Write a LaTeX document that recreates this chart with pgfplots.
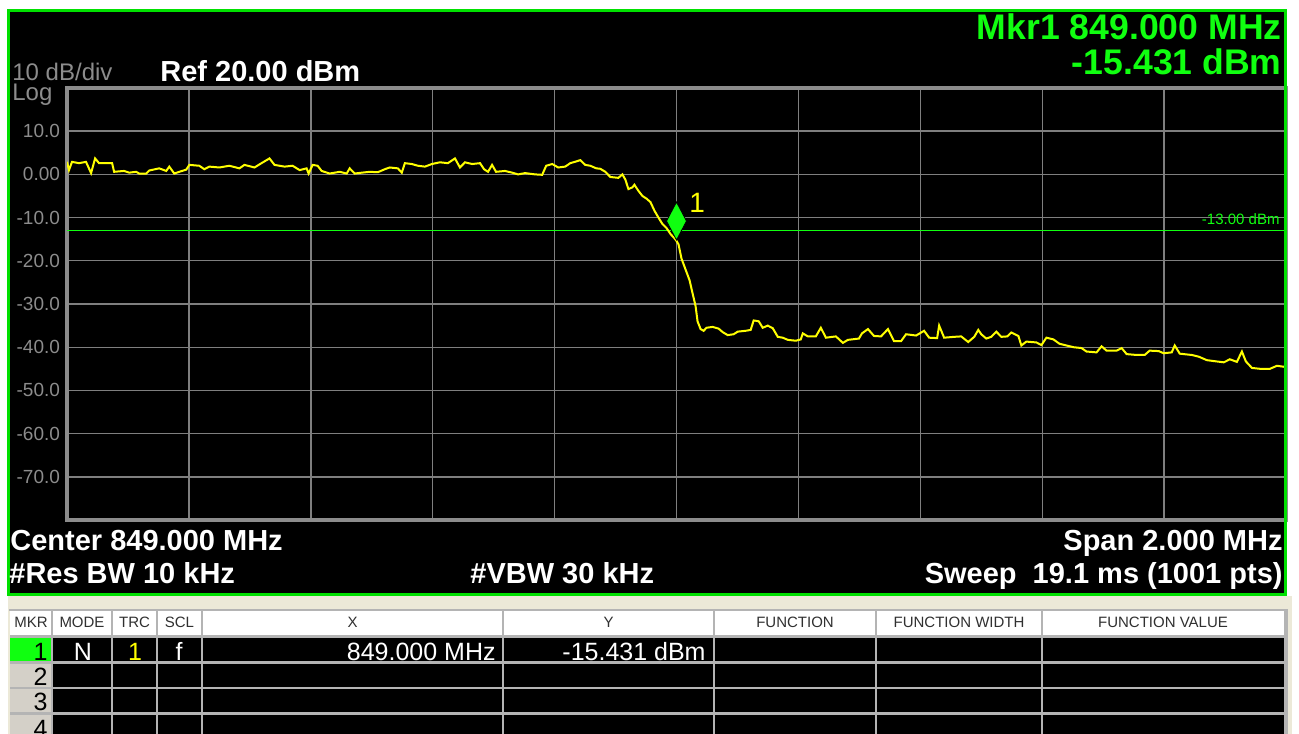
\documentclass[border=0pt]{standalone}
\usepackage{pgfplots}
\usepackage{pgfplotstable}
\pgfplotsset{compat=1.18}
\usepackage{fontspec}
\setmainfont{Liberation Sans}
\definecolor{framegreen}{HTML}{00E000}
\definecolor{mkrgreen}{HTML}{10FF10}
\definecolor{gridgrey}{HTML}{7F7F7F}
\definecolor{bordergrey}{HTML}{8C8C8C}
\definecolor{ticktext}{HTML}{8C8C8C}
\definecolor{traceyellow}{HTML}{FFFF00}
\definecolor{xpbeige}{HTML}{ECE9D8}
\definecolor{cellgrey}{HTML}{D4D0C8}
\definecolor{tableline}{HTML}{B4B4B4}
\definecolor{headtext}{HTML}{303030}

% trace 1, 848-850 MHz, dBm
\pgfplotstableread{
freq dbm
848.0000 2.9
848.0033 1.0
848.0082 2.9
848.0197 2.6
848.0312 2.9
848.0395 0.3
848.0461 3.7
848.0526 2.6
848.0740 2.6
848.0773 0.6
848.0937 0.8
848.1020 0.4
848.1135 0.6
848.1184 0.2
848.1299 0.2
848.1349 0.9
848.1513 1.4
848.1628 0.8
848.1678 1.8
848.1760 0.2
848.1842 0.6
848.1957 1.1
848.2007 2.2
848.2171 2.0
848.2253 1.2
848.2336 1.8
848.2500 1.6
848.2664 2.0
848.2829 1.4
848.2911 2.2
848.3076 1.6
848.3191 2.6
848.3322 3.7
848.3405 2.2
848.3569 1.8
848.3701 2.0
848.3816 1.0
848.3931 1.4
848.3964 0.2
848.4030 2.2
848.4112 2.0
848.4178 0.8
848.4309 0.2
848.4474 0.6
848.4589 0.2
848.4638 1.4
848.4720 0.2
848.4836 0.4
848.4967 0.6
848.5099 0.5
848.5214 1.2
848.5296 1.6
848.5428 1.4
848.5493 0.4
848.5543 2.6
848.5658 2.4
848.5757 2.0
848.5872 1.8
848.5987 2.4
848.6118 2.8
848.6250 2.6
848.6365 3.7
848.6447 1.6
848.6530 2.8
848.6645 2.4
848.6776 2.6
848.6842 1.2
848.6908 0.6
848.6974 2.2
848.7039 0.6
848.7187 0.8
848.7303 0.4
848.7401 0.0
848.7516 0.3
848.7681 0.0
848.7796 -0.1
848.7862 2.0
848.7961 2.4
848.8059 1.6
848.8174 1.8
848.8257 2.6
848.8355 3.0
848.8421 3.3
848.8503 2.2
848.8586 2.0
848.8684 1.4
848.8750 1.3
848.8832 0.6
848.8914 -0.6
848.9046 -0.8
848.9112 0.0
848.9161 -1.2
848.9211 -3.4
848.9276 -3.0
848.9309 -2.4
848.9375 -3.8
848.9441 -5.0
848.9507 -5.6
848.9572 -6.4
848.9638 -8.4
848.9704 -10.0
848.9770 -11.5
848.9836 -12.4
848.9901 -13.8
848.9967 -14.8
849.0000 -15.4
849.0033 -16.2
849.0082 -19.5
849.0148 -22.0
849.0214 -24.5
849.0263 -27.5
849.0313 -30.5
849.0345 -34.0
849.0395 -35.8
849.0444 -36.2
849.0493 -35.5
849.0592 -35.3
849.0691 -35.7
849.0757 -36.5
849.0839 -37.2
849.0938 -37.0
849.1003 -36.4
849.1135 -36.2
849.1217 -36.0
849.1266 -33.8
849.1349 -34.0
849.1414 -35.5
849.1497 -35.0
849.1579 -35.6
849.1661 -37.6
849.1743 -37.8
849.1826 -38.3
849.1957 -38.5
849.2039 -38.2
849.2072 -36.8
849.2155 -37.5
849.2286 -37.5
849.2368 -35.5
849.2451 -37.8
849.2615 -37.5
849.2730 -39.0
849.2812 -38.3
849.2993 -38.0
849.3043 -36.8
849.3141 -35.8
849.3240 -37.4
849.3355 -37.5
849.3470 -35.8
849.3569 -38.6
849.3684 -38.6
849.3766 -37.0
849.3931 -37.3
849.4062 -36.2
849.4145 -37.8
849.4276 -37.9
849.4309 -35.0
849.4391 -37.8
849.4556 -37.6
849.4671 -37.5
849.4786 -38.8
849.4885 -37.6
849.4951 -36.0
849.5000 -37.0
849.5082 -38.0
849.5164 -37.6
849.5247 -36.4
849.5329 -37.6
849.5428 -37.5
849.5493 -36.6
849.5609 -37.4
849.5658 -39.6
849.5740 -38.7
849.5905 -38.9
849.5987 -39.5
849.6069 -37.8
849.6184 -38.2
849.6283 -39.2
849.6398 -39.6
849.6513 -40.0
849.6645 -40.2
849.6727 -41.0
849.6891 -41.2
849.6974 -39.8
849.7056 -40.8
849.7220 -40.8
849.7303 -40.2
849.7385 -41.6
849.7549 -41.8
849.7681 -41.8
849.7763 -40.8
849.7911 -40.9
849.7993 -41.4
849.8125 -41.2
849.8174 -39.6
849.8257 -41.5
849.8454 -41.8
849.8569 -42.2
849.8701 -43.0
849.8865 -43.3
849.8980 -43.5
849.9079 -42.8
849.9194 -43.4
849.9276 -41.0
849.9342 -43.3
849.9441 -44.8
849.9572 -45.0
849.9737 -45.0
849.9852 -44.3
850.0000 -44.6
}\tracedata

\begin{document}
\begin{tikzpicture}
\path[use as bounding box] (0pt,0pt) rectangle (649.5pt,-366.5pt);
\clip (0pt,0pt) rectangle (649.5pt,-366.5pt);

% screen background and marker table (1 px = 0.5 pt)
\begin{scope}[x=0.5pt,y=-0.5pt]
  \fill[white] (0,0) rectangle (1299,733);
  \fill[black] (8,10) rectangle (1286,595);
  % table area
  \fill[xpbeige] (8,596) rectangle (1292,740);
  \draw[tableline, line width=1pt] (9,610) -- (1288,610);
  \fill[white] (10,611) rectangle (1285,636);
  \fill[black] (10,636) rectangle (1285,740);
  \fill[mkrgreen] (10,637) rectangle (51,662);
  \fill[cellgrey] (10,663) rectangle (51,740);
  \foreach \yy in {636.5,662.5,688,713.5}
    \draw[tableline, line width=1.4pt] (10,\yy) -- (1285,\yy);
  \foreach \xx in {52,112,157,202,503,714,876,1042}
    \draw[tableline, line width=1.4pt] (\xx,611) -- (\xx,740);
  \draw[tableline, line width=2pt] (1285.5,611) -- (1285.5,740);
  \begin{scope}[every node/.style={inner sep=0pt, font=\fontsize{7.5}{8}\selectfont, text=headtext, anchor=base}]
    \node at (31,627) {MKR};
    \node at (82,627) {MODE};
    \node at (134.5,627) {TRC};
    \node at (179.5,627) {SCL};
    \node at (352.5,627) {X};
    \node at (608.5,627) {Y};
    \node at (795,627) {FUNCTION};
    \node at (959,627) {FUNCTION WIDTH};
    \node at (1163,627) {FUNCTION VALUE};
  \end{scope}
  \begin{scope}[every node/.style={inner sep=0pt, font=\fontsize{12.5}{13}\selectfont}]
    \node[anchor=base east, text=black] at (48,660) {1};
    \node[anchor=base east, text=black] at (48,685) {2};
    \node[anchor=base east, text=black] at (48,710.5) {3};
    \node[anchor=base east, text=black] at (48,737) {4};
    \node[anchor=base, text=white] at (83,660) {N};
    \node[anchor=base, text=traceyellow] at (135,660) {1};
    \node[anchor=base, text=white] at (179,660) {f};
    \node[anchor=base east, text=white] at (496,660) {849.000 MHz};
    \node[anchor=base east, text=white] at (706,660) {-15.431 dBm};
  \end{scope}
\end{scope}

\begin{axis}[
  at={(33.5pt,-260pt)}, anchor=south west,
  scale only axis, width=609.5pt, height=216pt,
  xmin=848, xmax=850, ymin=-80, ymax=20,
  xtick={848,848.2,848.4,848.6,848.8,849,849.2,849.4,849.6,849.8,850},
  xticklabels={},
  ytick={-70,-60,-50,-40,-30,-20,-10,0,10},
  yticklabels={-70.0,-60.0,-50.0,-40.0,-30.0,-20.0,-10.0,0.00,10.0},
  major tick length=0pt,
  grid=major,
  major grid style={draw=gridgrey, line width=0.7pt},
  axis line style={draw=bordergrey, line width=2pt},
  yticklabel style={font=\fontsize{9.5}{10}\selectfont, text=ticktext},
  axis background/.style={fill=black},
]
% display line -13 dBm
\addplot[mkrgreen, line width=0.7pt] coordinates {(848,-13) (850,-13)};
\addplot[traceyellow, line width=1pt] table[x=freq, y=dbm] {\tracedata};
% marker 1
\addplot[only marks, mark=diamond*, mark size=9.5pt,
  mark options={fill=mkrgreen, draw=none, xscale=0.7, yshift=10pt}]
  coordinates {(849,-15.431)};
\node[fill=black, inner sep=1.6pt, text=traceyellow, font=\fontsize{14}{14}\selectfont]
  at (axis cs:849.034,-6.6) {1};
\node[anchor=east, inner sep=0pt, text=mkrgreen, font=\fontsize{7.5}{8}\selectfont]
  at (axis cs:849.99,-10.3) {-13.00 dBm};
\end{axis}

% header / footer annotations and green frame
\begin{scope}[x=0.5pt,y=-0.5pt]
  \draw[framegreen, line width=1.4pt] (8.5,10.5) rectangle (1285.5,594.5);
  \begin{scope}[every node/.style={inner sep=0pt}]
    \node[anchor=base west, text=ticktext, font=\fontsize{12}{12}\selectfont] at (12,80.5) {10 dB/div};
    \node[anchor=base west, text=ticktext, font=\fontsize{12}{12}\selectfont] at (12,100) {Log};
    \node[anchor=base west, text=white, font=\fontsize{14.5}{15}\selectfont\bfseries] at (160,81.5) {Ref 20.00 dBm};
    \node[anchor=base east, text=mkrgreen, font=\fontsize{17.8}{18}\selectfont\bfseries] at (1282,40) {Mkr1 849.000 MHz};
    \node[anchor=base east, text=mkrgreen, font=\fontsize{17.8}{18}\selectfont\bfseries] at (1282,75) {-15.431 dBm};
    \node[anchor=base west, text=white, font=\fontsize{14.5}{15}\selectfont\bfseries] at (10,550) {Center 849.000 MHz};
    \node[anchor=base east, text=white, font=\fontsize{14.5}{15}\selectfont\bfseries] at (1283,550) {Span 2.000 MHz};
    \node[anchor=base west, text=white, font=\fontsize{14.5}{15}\selectfont\bfseries] at (9,583) {\#Res BW 10 kHz};
    \node[anchor=base west, text=white, font=\fontsize{14.5}{15}\selectfont\bfseries] at (470,583) {\#VBW 30 kHz};
    \node[anchor=base east, text=white, font=\fontsize{14.5}{15}\selectfont\bfseries] at (1283,583) {Sweep\ \ 19.1 ms (1001 pts)};
  \end{scope}
\end{scope}
\end{tikzpicture}
\end{document}
